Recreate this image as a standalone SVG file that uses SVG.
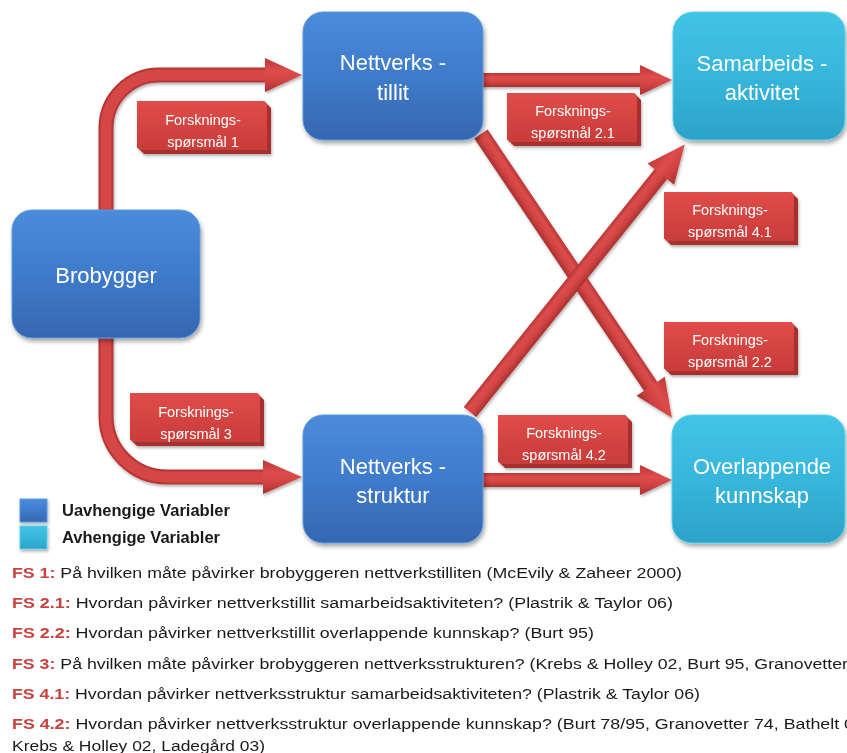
<svg xmlns="http://www.w3.org/2000/svg" width="847" height="753" viewBox="0 0 847 753">
  <defs>
    <linearGradient id="blueGrad" x1="0" y1="0" x2="0" y2="1">
      <stop offset="0" stop-color="#4b8cda"/>
      <stop offset="0.5" stop-color="#3f7bcb"/>
      <stop offset="1" stop-color="#3567b1"/>
    </linearGradient>
    <linearGradient id="cyanGrad" x1="0" y1="0" x2="0" y2="1">
      <stop offset="0" stop-color="#42c4e5"/>
      <stop offset="0.5" stop-color="#37b6dc"/>
      <stop offset="1" stop-color="#2da2c9"/>
    </linearGradient>
    <linearGradient id="shaftGrad" x1="0" y1="0" x2="0" y2="1">
      <stop offset="0" stop-color="#b93636"/>
      <stop offset="0.3" stop-color="#dc4d4a"/>
      <stop offset="0.65" stop-color="#d04442"/>
      <stop offset="1" stop-color="#aa3030"/>
    </linearGradient>
    <linearGradient id="headGrad" x1="0" y1="0" x2="0" y2="1">
      <stop offset="0" stop-color="#bd3737"/>
      <stop offset="0.4" stop-color="#dd4d4a"/>
      <stop offset="0.7" stop-color="#cf4240"/>
      <stop offset="1" stop-color="#a83030"/>
    </linearGradient>
    <linearGradient id="labelGrad" x1="0" y1="0" x2="0" y2="1">
      <stop offset="0" stop-color="#e04c49"/>
      <stop offset="1" stop-color="#c83c3a"/>
    </linearGradient>
    <filter id="shadow" x="-10%" y="-10%" width="125%" height="130%">
      <feDropShadow dx="1.5" dy="3" stdDeviation="2" flood-color="#000" flood-opacity="0.35"/>
    </filter>
    <filter id="arrowShadow" x="-10%" y="-10%" width="125%" height="130%">
      <feDropShadow dx="1" dy="2" stdDeviation="1.5" flood-color="#000" flood-opacity="0.3"/>
    </filter>
  </defs>
  <style>
    .box { stroke-width: 1; filter: url(#shadow); }
    .blue { fill: url(#blueGrad); stroke: #5c9ae2; }
    .cyan { fill: url(#cyanGrad); stroke: #5ad0ec; }
    .node-text { font-family: "Liberation Sans", Arial, sans-serif; font-size: 22px; fill: #ffffff; text-anchor: middle; }
    .shaft { fill: url(#shaftGrad); }
    .head { fill: url(#headGrad); }
    .tube-dark { fill: none; stroke: #b83636; stroke-width: 15; }
    .tube-light { fill: none; stroke: #d44644; stroke-width: 11; }
    .label-back { fill: #a92f2f; }
    .label-face { fill: url(#labelGrad); }
    .label-text { font-family: "Liberation Sans", Arial, sans-serif; font-size: 14.5px; fill: #ffffff; text-anchor: middle; }
    .legend-text { font-family: "Liberation Sans", Arial, sans-serif; font-size: 16.5px; font-weight: bold; fill: #1a1a1a; }
    .fs { font-family: "Liberation Sans", Arial, sans-serif; font-size: 15.5px; fill: #1a1a1a; }
    .fs-key { fill: #c8423f; font-weight: bold; }
  </style>

  <!-- connectors -->
  <g id="connectors" filter="url(#arrowShadow)">
    <!-- Brobygger -> Nettverks-tillit -->
    <g id="arrow-fs1">
      <path class="tube-dark" d="M106,214 V128 A53,53 0 0 1 159,75 H268"/>
      <path class="tube-light" d="M106,214 V128 A53,53 0 0 1 159,75 H268"/>
      <polygon class="head" points="265,58 302,75 265,92"/>
    </g>
    <!-- Brobygger -> Nettverks-struktur -->
    <g id="arrow-fs3">
      <path class="tube-dark" d="M106,334 V416 A61,61 0 0 0 167,477 H266"/>
      <path class="tube-light" d="M106,334 V416 A61,61 0 0 0 167,477 H266"/>
      <polygon class="head" points="263,460 302,477 263,494"/>
    </g>
    <!-- Nettverks-tillit -> Samarbeids-aktivitet -->
    <g id="arrow-fs21" transform="translate(481,80)">
      <rect class="shaft" x="0" y="-7" width="160" height="14"/>
      <polygon class="head" points="159,-15 191,0 159,15"/>
    </g>
    <!-- Nettverks-tillit -> Overlappende kunnskap -->
    <g id="arrow-fs22" transform="translate(481,134) rotate(56.08)">
      <rect class="shaft" x="0" y="-8" width="306" height="16"/>
      <polygon class="head" points="304,-17 342,0 304,17"/>
    </g>
    <!-- Nettverks-struktur -> Samarbeids-aktivitet -->
    <g id="arrow-fs41" transform="translate(470,412) rotate(-51.26)">
      <rect class="shaft" x="0" y="-8" width="307" height="16"/>
      <polygon class="head" points="305,-17 343,0 305,17"/>
    </g>
    <!-- Nettverks-struktur -> Overlappende kunnskap -->
    <g id="arrow-fs42" transform="translate(481,480)">
      <rect class="shaft" x="0" y="-7" width="160" height="14"/>
      <polygon class="head" points="159,-15 191,0 159,15"/>
    </g>
  </g>

  <!-- nodes -->
  <g id="node-brobygger">
    <rect class="box blue" x="12" y="210" width="188" height="128" rx="20"/>
    <text class="node-text" x="106" y="283">Brobygger</text>
  </g>
  <g id="node-nettverkstillit">
    <rect class="box blue" x="303" y="12" width="180" height="128" rx="20"/>
    <text class="node-text" x="393" y="70">Nettverks -</text>
    <text class="node-text" x="393" y="100">tillit</text>
  </g>
  <g id="node-samarbeidsaktivitet">
    <rect class="box cyan" x="673" y="12" width="172" height="128" rx="20"/>
    <text class="node-text" x="762" y="71">Samarbeids -</text>
    <text class="node-text" x="762" y="100">aktivitet</text>
  </g>
  <g id="node-nettverksstruktur">
    <rect class="box blue" x="303" y="415" width="180" height="128" rx="20"/>
    <text class="node-text" x="393" y="474">Nettverks -</text>
    <text class="node-text" x="393" y="503">struktur</text>
  </g>
  <g id="node-overlappende">
    <rect class="box cyan" x="672" y="415" width="173" height="128" rx="20"/>
    <text class="node-text" x="762" y="474">Overlappende</text>
    <text class="node-text" x="762" y="503">kunnskap</text>
  </g>

  <!-- research question labels -->
  <g id="label-fs1" transform="translate(137,101)" filter="url(#arrowShadow)">
    <polygon class="label-back" points="0,0 127,0 134,7 134,53 7,53 0,46"/>
    <polygon class="label-face" points="0,0 127,0 130,3 130,49 3,49 0,46"/>
    <text class="label-text" x="66" y="24">Forsknings-</text>
    <text class="label-text" x="66" y="46">spørsmål 1</text>
  </g>
  <g id="label-fs21" transform="translate(507,93)" filter="url(#arrowShadow)">
    <polygon class="label-back" points="0,0 127,0 134,7 134,53 7,53 0,46"/>
    <polygon class="label-face" points="0,0 127,0 130,3 130,49 3,49 0,46"/>
    <text class="label-text" x="66" y="23">Forsknings-</text>
    <text class="label-text" x="66" y="45">spørsmål 2.1</text>
  </g>
  <g id="label-fs41" transform="translate(664,192)" filter="url(#arrowShadow)">
    <polygon class="label-back" points="0,0 127,0 134,7 134,53 7,53 0,46"/>
    <polygon class="label-face" points="0,0 127,0 130,3 130,49 3,49 0,46"/>
    <text class="label-text" x="66" y="23">Forsknings-</text>
    <text class="label-text" x="66" y="45">spørsmål 4.1</text>
  </g>
  <g id="label-fs22" transform="translate(664,322)" filter="url(#arrowShadow)">
    <polygon class="label-back" points="0,0 127,0 134,7 134,53 7,53 0,46"/>
    <polygon class="label-face" points="0,0 127,0 130,3 130,49 3,49 0,46"/>
    <text class="label-text" x="66" y="23">Forsknings-</text>
    <text class="label-text" x="66" y="45">spørsmål 2.2</text>
  </g>
  <g id="label-fs42" transform="translate(498,415)" filter="url(#arrowShadow)">
    <polygon class="label-back" points="0,0 127,0 134,7 134,53 7,53 0,46"/>
    <polygon class="label-face" points="0,0 127,0 130,3 130,49 3,49 0,46"/>
    <text class="label-text" x="66" y="23">Forsknings-</text>
    <text class="label-text" x="66" y="45">spørsmål 4.2</text>
  </g>
  <g id="label-fs3" transform="translate(130,393)" filter="url(#arrowShadow)">
    <polygon class="label-back" points="0,0 127,0 134,7 134,53 7,53 0,46"/>
    <polygon class="label-face" points="0,0 127,0 130,3 130,49 3,49 0,46"/>
    <text class="label-text" x="66" y="24">Forsknings-</text>
    <text class="label-text" x="66" y="46">spørsmål 3</text>
  </g>

  <!-- legend -->
  <g id="legend">
    <rect x="20" y="499" width="27" height="23" fill="url(#blueGrad)" stroke="#5c9ae2" filter="url(#arrowShadow)"/>
    <rect x="20" y="526" width="27" height="23" fill="url(#cyanGrad)" stroke="#5ad0ec" filter="url(#arrowShadow)"/>
    <text class="legend-text" x="62" y="516">Uavhengige Variabler</text>
    <text class="legend-text" x="62" y="543">Avhengige Variabler</text>
  </g>

  <!-- research questions -->
  <g id="questions">
    <text class="fs" x="12" y="578" textLength="670" lengthAdjust="spacingAndGlyphs"><tspan class="fs-key">FS 1:</tspan>  På hvilken måte påvirker brobyggeren nettverkstilliten (McEvily &amp; Zaheer 2000)</text>
    <text class="fs" x="12" y="608" textLength="661" lengthAdjust="spacingAndGlyphs"><tspan class="fs-key">FS 2.1:</tspan>  Hvordan påvirker nettverkstillit samarbeidsaktiviteten? (Plastrik &amp; Taylor 06)</text>
    <text class="fs" x="12" y="638" textLength="582" lengthAdjust="spacingAndGlyphs"><tspan class="fs-key">FS 2.2:</tspan>  Hvordan påvirker nettverkstillit overlappende kunnskap? (Burt 95)</text>
    <text class="fs" x="12" y="669" textLength="836" lengthAdjust="spacingAndGlyphs"><tspan class="fs-key">FS 3:</tspan>  På hvilken måte påvirker brobyggeren nettverksstrukturen? (Krebs &amp; Holley 02, Burt 95, Granovetter</text>
    <text class="fs" x="12" y="699" textLength="688" lengthAdjust="spacingAndGlyphs"><tspan class="fs-key">FS 4.1:</tspan> Hvordan påvirker nettverksstruktur samarbeidsaktiviteten? (Plastrik &amp; Taylor 06)</text>
    <text class="fs" x="12" y="729" textLength="842" lengthAdjust="spacingAndGlyphs"><tspan class="fs-key">FS 4.2:</tspan> Hvordan påvirker nettverksstruktur overlappende kunnskap? (Burt 78/95, Granovetter 74, Bathelt 0</text>
    <text class="fs" x="12" y="751" textLength="253" lengthAdjust="spacingAndGlyphs">Krebs &amp; Holley 02, Ladegård 03)</text>
  </g>
</svg>
